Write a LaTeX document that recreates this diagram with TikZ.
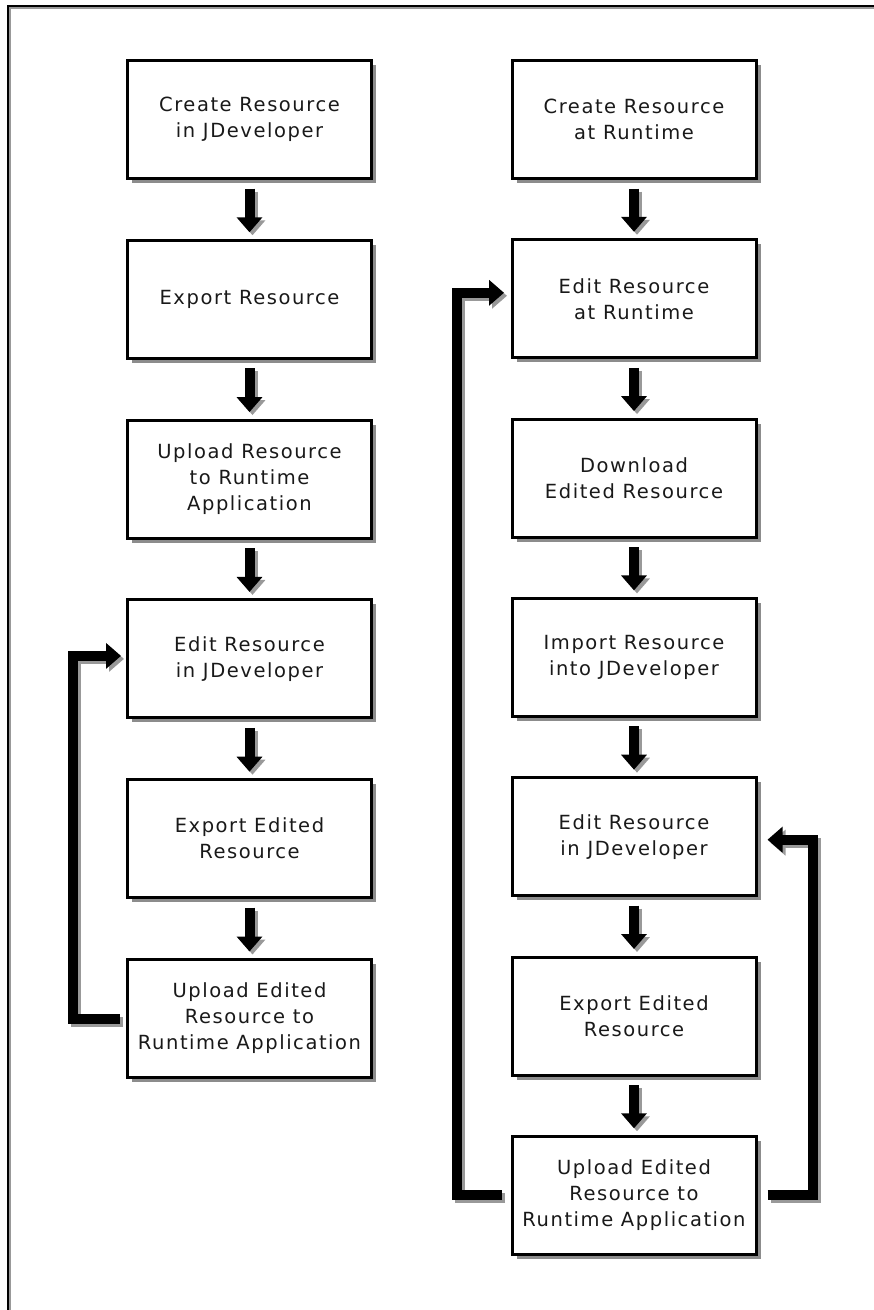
\documentclass[tikz,border=0pt]{standalone}
\usepackage{fontspec}
\setmainfont{DejaVu Sans}[LetterSpace=8]
\usetikzlibrary{arrows.meta,shadows}
\tikzset{
  stepbox/.style={draw=black, line width=3pt, fill=white,
    minimum width=244pt, minimum height=118pt, inner sep=0pt, align=center,
    font=\fontsize{19.5}{26}\selectfont, text=black!90,
    drop shadow={shadow xshift=4.5pt, shadow yshift=-4.5pt, fill=black!45, opacity=1}},
  con/.style={line width=10pt, line join=miter, draw=black,
    -{Triangle[width=25pt,length=15pt]}},
  conshadow/.style={con, draw=black!40, transform canvas={xshift=3pt,yshift=-3pt}},
  down/.style={shorten <=8.5pt, shorten >=6.5pt},
}
\newcommand\connect[2][]{\draw[conshadow,#1] #2; \draw[con,#1] #2;}
\begin{document}
\begin{tikzpicture}[x=1pt,y=-1pt]
\useasboundingbox (0,0) rectangle (874,1310);
% frame
\draw[black!40, line width=2pt] (9.5,1310) -- (9.5,7.5) -- (874,7.5);
\draw[black, line width=2pt] (7.5,1310) -- (7.5,5.5) -- (874,5.5);

% left column
\node[stepbox] (L1) at (249.5,119.5) {Create Resource\\in JDeveloper};
\node[stepbox] (L2) at (249.5,299.3) {Export Resource};
\node[stepbox] (L3) at (249.5,479.1) {Upload Resource\\to Runtime\\Application};
\node[stepbox] (L4) at (249.5,658.9) {Edit Resource\\in JDeveloper};
\node[stepbox] (L5) at (249.5,838.7) {Export Edited\\Resource};
\node[stepbox] (L6) at (249.5,1018.5) {Upload Edited\\Resource to\\Runtime Application};

% right column
\node[stepbox] (R1) at (634,119.5) {Create Resource\\at Runtime};
\node[stepbox] (R2) at (634,298.8) {Edit Resource\\at Runtime};
\node[stepbox] (R3) at (634,478.1) {Download\\Edited Resource};
\node[stepbox] (R4) at (634,657.4) {Import Resource\\into JDeveloper};
\node[stepbox] (R5) at (634,836.7) {Edit Resource\\in JDeveloper};
\node[stepbox] (R6) at (634,1016) {Export Edited\\Resource};
\node[stepbox] (R7) at (634,1195.3) {Upload Edited\\Resource to\\Runtime Application};

% down arrows
\connect[down]{(L1.south) -- (L2.north)}
\connect[down]{(L2.south) -- (L3.north)}
\connect[down]{(L3.south) -- (L4.north)}
\connect[down]{(L4.south) -- (L5.north)}
\connect[down]{(L5.south) -- (L6.north)}
\connect[down]{(R1.south) -- (R2.north)}
\connect[down]{(R2.south) -- (R3.north)}
\connect[down]{(R3.south) -- (R4.north)}
\connect[down]{(R4.south) -- (R5.north)}
\connect[down]{(R5.south) -- (R6.north)}
\connect[down]{(R6.south) -- (R7.north)}

% feedback loops
\connect[shorten <=6pt, shorten >=5pt]{(L6.west) -- ++(-53.5,0) |- ([yshift=3pt]L4.west)}
\connect[shorten <=8.5pt, shorten >=6.5pt]{(R7.west) -- ++(-53.5,0) |- ([yshift=6pt]R2.west)}
\connect[shorten <=10pt, shorten >=10pt]{(R7.east) -- ++(55.5,0) |- ([yshift=-3pt]R5.east)}
\end{tikzpicture}
\end{document}
